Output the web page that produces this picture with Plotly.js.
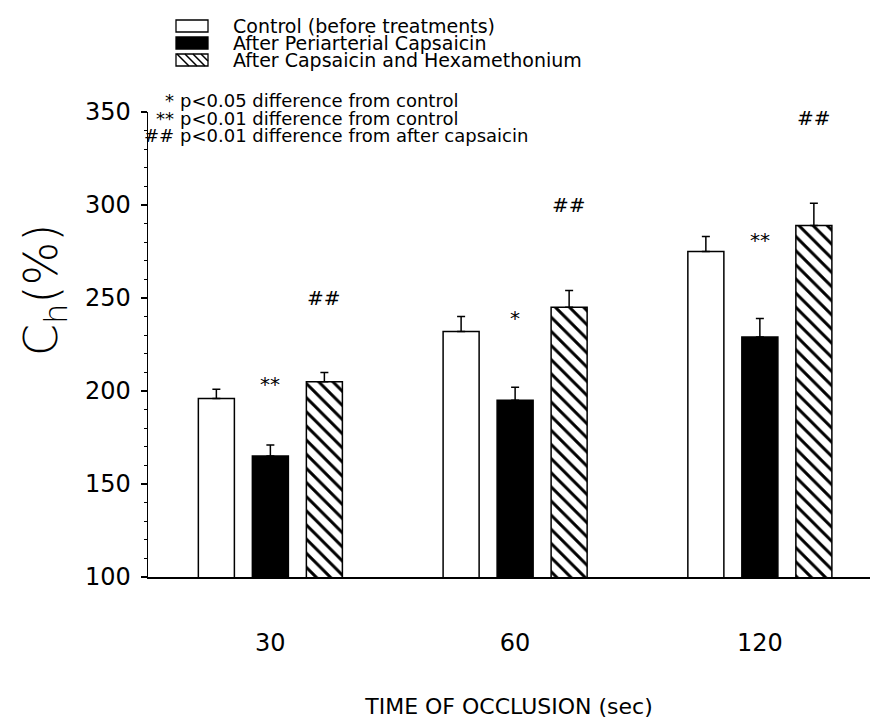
<!DOCTYPE html>
<html>
<head>
<meta charset="utf-8">
<script src="https://cdn.plot.ly/plotly-3.0.1.min.js"></script>
<style>
  html, body { margin: 0; padding: 0; background: #ffffff; }
  #chart { width: 878px; height: 725px; }
</style>
</head>
<body>
<div id="chart"></div>
<script>
// ---- data ----
const categories = ['30', '60', '120'];
const seriesNames = ['Control (before treatments)', 'After Periarterial Capsaicin', 'After Capsaicin and Hexamethonium'];
const controlVals = [196, 232, 275];
const controlErr = [5, 8, 8];
const capsaicinVals = [165, 195, 229];
const capsaicinErr = [6, 7, 10];
const hexaVals = [205, 245, 289];
const hexaErr = [5, 9, 12];

// significance marks: category, series index (0,1,2), y value, text
const sigCats = ['30', '30', '60', '60', '120', '120'];
const sigSeries = [1, 2, 1, 2, 1, 2];
const sigY = [204, 250, 239, 300, 281, 347];
const sigText = ['**', '##', '*', '##', '**', '##'];

const noteSymbols = ['*', '**', '##'];
const noteTexts = ['p<0.05 difference from control', 'p<0.01 difference from control', 'p<0.01 difference from after capsaicin'];

const yTitle = 'C<sub>h</sub>(%)';
const xTitle = 'TIME OF OCCLUSION (sec)';

// ---- layout helpers ----
const W = 878, H = 725;
const M = {l: 148, r: 8, t: 112, b: 148};
const PW = W - M.l - M.r, PH = H - M.t - M.b;
const px2x = p => (p - M.l) / PW;
const px2y = p => (H - M.b - p) / PH;

const FONT = 'DejaVu Sans, sans-serif';
const font = (size, weight) => ({family: FONT, size: size, color: '#000', weight: weight || 'normal'});

const zeros = categories.map(() => 0);
function barTrace(name, vals, err, marker) {
  return {
    type: 'bar', name: name, x: categories, y: vals,
    marker: Object.assign({line: {color: '#000', width: 1.5}}, marker),
    error_y: {type: 'data', array: err, arrayminus: zeros, symmetric: false,
              color: '#000', thickness: 1.5, width: 4},
    showlegend: false, hoverinfo: 'x+y+name'
  };
}

const traces = [
  barTrace(seriesNames[0], controlVals, controlErr, {color: '#ffffff'}),
  barTrace(seriesNames[1], capsaicinVals, capsaicinErr, {color: '#000000'}),
  barTrace(seriesNames[2], hexaVals, hexaErr, {color: '#ffffff',
      pattern: {shape: '\\', size: 10, solidity: 0.3, fgcolor: '#000', fgopacity: 1, bgcolor: '#fff', fillmode: 'overlay'}})
];

const groupWidth = 0.662;          // fraction of a category slot
const slotUnits = groupWidth / 3;  // one bar slot in category units

const annotations = [];
// significance marks above bars
for (let i = 0; i < sigText.length; i++) {
  annotations.push({
    x: categories.indexOf(sigCats[i]) + (sigSeries[i] - 1) * slotUnits, y: sigY[i],
    xref: 'x', yref: 'y',
    text: sigText[i], showarrow: false, font: font(20),
    xanchor: 'center', yanchor: 'middle'
  });
}
// notes block
const noteY = [101, 118, 135];
for (let i = 0; i < noteTexts.length; i++) {
  annotations.push({x: px2x(176), y: px2y(noteY[i]), xref: 'paper', yref: 'paper',
    text: noteSymbols[i], showarrow: false, font: font(18), xanchor: 'right', yanchor: 'middle'});
  annotations.push({x: px2x(178), y: px2y(noteY[i]), xref: 'paper', yref: 'paper',
    text: noteTexts[i], showarrow: false, font: font(18), xanchor: 'left', yanchor: 'middle'});
}
// legend texts
const legY = [26, 43, 60];
for (let i = 0; i < seriesNames.length; i++) {
  annotations.push({x: px2x(231), y: px2y(legY[i]), xref: 'paper', yref: 'paper',
    text: seriesNames[i], showarrow: false, font: font(19), xanchor: 'left', yanchor: 'middle'});
}
// y title
annotations.push({x: px2x(44), y: px2y(290), xref: 'paper', yref: 'paper',
  text: yTitle, showarrow: false, textangle: -90, font: font(46, 300), xanchor: 'center', yanchor: 'middle'});

// legend swatches as shapes
const shapes = [];
const sx0 = 176, sx1 = 208, sh = 12;
const fills = ['#ffffff', '#000000', '#ffffff'];
for (let i = 0; i < 3; i++) {
  shapes.push({type: 'rect', xref: 'paper', yref: 'paper',
    x0: px2x(sx0), x1: px2x(sx1), y0: px2y(legY[i] + sh / 2), y1: px2y(legY[i] - sh / 2),
    fillcolor: fills[i], line: {color: '#000', width: 1.3}});
}
// hatch lines in third swatch
for (let k = 0; k < 4; k++) {
  const a = sx0 + 1 + k * 8;
  const b = Math.min(a + 12, sx1);
  shapes.push({type: 'line', xref: 'paper', yref: 'paper',
    x0: px2x(a), y0: px2y(legY[2] - sh / 2), x1: px2x(b), y1: px2y(legY[2] - sh / 2 + (b - a)),
    line: {color: '#000', width: 1.5}});
}

const layout = {
  width: W, height: H,
  margin: M,
  paper_bgcolor: '#fff', plot_bgcolor: '#fff',
  barmode: 'group', bargap: 1 - groupWidth, bargroupgap: 0.333,
  showlegend: false,
  font: font(16),
  xaxis: {
    type: 'category', range: [-0.5, 2.45],
    showline: true, linecolor: '#000', linewidth: 1.5,
    ticks: '', showgrid: false, zeroline: false,
    tickfont: font(24), ticklabelstandoff: 44,
    title: {text: xTitle, font: font(22), standoff: 42},
    automargin: false
  },
  yaxis: {
    range: [100, 350], tick0: 100, dtick: 50,
    showline: true, linecolor: '#000', linewidth: 1.5,
    ticks: 'outside', ticklen: 6, tickwidth: 1.2, tickcolor: '#000',
    minor: {dtick: 10, ticks: 'outside', ticklen: 3, tickwidth: 1, tickcolor: '#000', showgrid: false},
    showgrid: false, zeroline: false,
    tickfont: font(24), ticklabelstandoff: 5,
    automargin: false
  },
  annotations: annotations,
  shapes: shapes
};

Plotly.newPlot('chart', traces, layout, {displayModeBar: false, staticPlot: true});
</script>
</body>
</html>
